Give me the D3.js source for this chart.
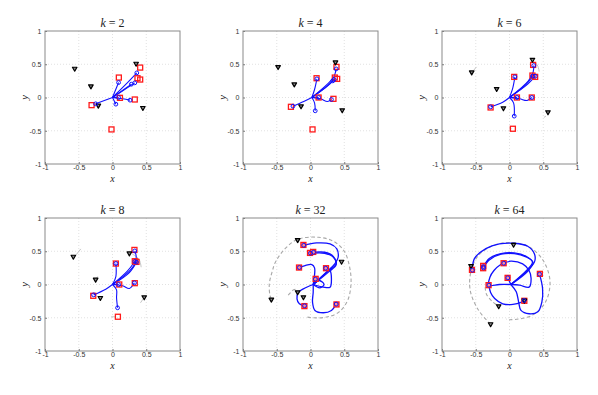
<!DOCTYPE html>
<html><head><meta charset="utf-8">
<script src="https://cdnjs.cloudflare.com/ajax/libs/d3/7.8.5/d3.min.js"></script>
<style>
html,body{margin:0;padding:0;background:#fff;}
svg{display:block;}
</style></head>
<body>
<svg id="chart" width="598" height="395"></svg>
<script>
// ---------------- data ----------------
const panelK = [2, 4, 6, 8, 32, 64];
const tickValues = [-1, -0.5, 0, 0.5, 1];
const tickLabels = ["-1", "-0.5", "0", "0.5", "1"];
const gridValues = [-0.5, 0, 0.5];

// black triangles (obstacles)
const obstaclesK2 = [[-0.56,0.435],[-0.32,0.17],[-0.21,-0.12],[0.35,0.51],[0.45,-0.155]];
const obstaclesK4 = [[-0.48,0.46],[-0.24,0.20],[-0.14,-0.13],[0.37,0.53],[0.47,-0.19]];
const obstaclesK6 = [[-0.56,0.38],[-0.19,0.13],[-0.09,-0.16],[0.34,0.57],[0.57,-0.22]];
const obstaclesK8 = [[-0.58,0.42],[-0.25,0.075],[-0.18,-0.2],[0.25,0.47],[0.47,-0.19]];
const obstaclesK32 = [[-0.19,0.67],[0.46,0.345],[-0.19,-0.115],[-0.105,-0.19],[-0.58,-0.225]];
const obstaclesK64 = [[-0.57,0.28],[0.06,0.60],[-0.16,-0.325],[-0.28,-0.595],[0.22,-0.24]];

// red squares (targets)
const targetsK2 = [[0.094,0.30],[0.41,0.45],[0.37,0.29],[0.41,0.27],[0.11,-0.005],[0.33,-0.03],[-0.31,-0.115],[-0.015,-0.48]];
const targetsK4 = [[0.09,0.29],[0.385,0.46],[0.36,0.30],[0.395,0.28],[0.12,0.0],[0.34,-0.02],[-0.29,-0.14],[0.03,-0.48]];
const targetsK6 = [[0.07,0.31],[0.35,0.49],[0.34,0.33],[0.38,0.31],[0.11,0.0],[0.33,0.0],[-0.28,-0.15],[0.05,-0.47]];
const targetsK8 = [[0.05,0.315],[0.325,0.52],[0.33,0.35],[0.355,0.34],[0.10,0.0],[0.33,0.02],[-0.285,-0.17],[0.08,-0.485]];
const targetsK32 = [[-0.105,0.595],[-0.007,0.475],[0.04,0.49],[-0.17,0.255],[0.23,0.245],[0.076,0.085],[-0.09,-0.325],[0.385,-0.3]];
const targetsK64 = [[-0.556,0.22],[-0.39,0.28],[-0.39,0.245],[-0.087,0.32],[-0.028,0.10],[-0.31,-0.01],[0.45,0.16],[0.22,-0.245]];

// blue circles (agents)
const agentsK2 = [[0.09,0.225],[0.36,0.37],[0.33,0.22],[0.28,0.2],[0.09,0.0],[0.26,-0.04],[-0.25,-0.095],[0.05,-0.1]];
const agentsK4 = [[0.095,0.28],[0.38,0.43],[0.35,0.27],[0.33,0.25],[0.12,0.0],[0.31,-0.03],[-0.26,-0.13],[0.07,-0.2]];
const agentsK6 = [[0.08,0.31],[0.36,0.48],[0.34,0.32],[0.38,0.32],[0.11,0.0],[0.33,0.0],[-0.28,-0.14],[0.07,-0.28]];
const agentsK8 = [[0.05,0.315],[0.33,0.505],[0.33,0.345],[0.355,0.335],[0.09,0.0],[0.325,0.025],[-0.28,-0.155],[0.075,-0.35]];
const agentsK32 = [[-0.1,0.59],[0.0,0.47],[0.045,0.485],[-0.165,0.255],[0.225,0.245],[0.072,0.08],[-0.088,-0.32],[0.38,-0.295]];
const agentsK64 = [[-0.55,0.215],[-0.385,0.27],[-0.385,0.25],[-0.085,0.32],[-0.025,0.10],[-0.305,-0.01],[0.445,0.155],[0.215,-0.24]];

// blue trajectories
const pathsK2 = [
  [[0,0],[0.09,0.225]],
  [[0,0],[0.2,0.2],[0.36,0.37]],
  [[0,0],[0.33,0.22]],
  [[0,0],[0.28,0.2]],
  [[0,0],[0.09,0.0]],
  [[0,0],[0.15,-0.02],[0.26,-0.04]],
  [[0,0],[-0.25,-0.095]],
  [[0,0],[0.05,-0.1]]
];
const pathsK4 = [
  [[0.02,0],[0.06,0.12],[0.095,0.28]],
  [[0.02,0],[0.25,0.2],[0.35,0.32],[0.38,0.43]],
  [[0.02,0],[0.25,0.17],[0.35,0.27]],
  [[0.02,0],[0.22,0.15],[0.33,0.25]],
  [[0.02,0],[0.12,0.0]],
  [[0.02,0],[0.15,-0.02],[0.25,-0.06],[0.31,-0.03]],
  [[0.02,0],[-0.1,-0.06],[-0.26,-0.13]],
  [[0.02,0],[0.06,-0.08],[0.07,-0.2]]
];
const pathsK6 = [
  [[0,0],[0.05,0.15],[0.08,0.31]],
  [[0,0],[0.28,0.25],[0.35,0.38],[0.36,0.48]],
  [[0,0],[0.25,0.2],[0.34,0.32]],
  [[0,0],[0.27,0.2],[0.38,0.32]],
  [[0,0],[0.11,0.0]],
  [[0,0],[0.15,-0.02],[0.26,-0.045],[0.33,0.0]],
  [[0,0],[-0.1,-0.07],[-0.28,-0.14]],
  [[0,0],[0.06,-0.08],[0.07,-0.28]]
];
const pathsK8 = [
  [[0,0],[0.05,0.12],[0.05,0.315]],
  [[0,0],[0.25,0.2],[0.34,0.33],[0.35,0.43],[0.33,0.505]],
  [[0,0],[0.22,0.2],[0.33,0.345]],
  [[0,0],[0.25,0.18],[0.355,0.335]],
  [[0,0],[0.09,0.0]],
  [[0,0],[0.15,-0.02],[0.25,-0.06],[0.325,0.025]],
  [[0,0],[-0.1,-0.07],[-0.28,-0.155]],
  [[0,0],[0.06,-0.08],[0.06,-0.2],[0.075,-0.35]]
];
const pathsK32 = [
  [[0.04,0],[0.25,0.2],[0.36,0.31],[0.41,0.41],[0.39,0.535],[0.29,0.61],[0.09,0.625],[-0.1,0.59]],
  [[0.04,0],[0.26,0.2],[0.38,0.31],[0.34,0.41],[0.21,0.47],[0.0,0.47]],
  [[0.04,0],[0.27,0.19],[0.38,0.3],[0.34,0.42],[0.21,0.485],[0.045,0.485]],
  [[0.04,0],[0.055,0.1],[0.06,0.25],[0.02,0.3],[-0.08,0.285],[-0.165,0.255]],
  [[0.04,0],[0.19,-0.04],[0.29,-0.04],[0.31,0.085],[0.29,0.21],[0.225,0.245]],
  [[0.04,0],[0.072,0.08]],
  [[0.04,0],[-0.105,-0.065],[-0.18,-0.115],[-0.2,-0.215],[-0.165,-0.29],[-0.088,-0.32]],
  [[0.04,0],[0.04,-0.115],[0.03,-0.265],[0.066,-0.39],[0.19,-0.425],[0.31,-0.39],[0.38,-0.295]],
  [[0.04,0],[0.13,0.06],[0.2,0.0],[0.14,-0.05],[0.04,0]]
];
const pathsK64 = [
  [[0.02,0],[0.25,0.2],[0.37,0.34],[0.37,0.46],[0.27,0.575],[0.07,0.62],[-0.15,0.61],[-0.35,0.54],[-0.52,0.39],[-0.55,0.215]],
  [[0.02,0],[0.26,0.22],[0.34,0.34],[0.245,0.425],[0.07,0.475],[-0.125,0.465],[-0.3,0.39],[-0.385,0.27]],
  [[0.02,0],[0.27,0.2],[0.35,0.33],[0.245,0.415],[0.07,0.465],[-0.125,0.455],[-0.3,0.37],[-0.385,0.25]],
  [[0.02,0],[0.15,-0.01],[0.29,-0.04],[0.32,0.09],[0.29,0.21],[0.195,0.31],[0.02,0.35],[-0.085,0.32]],
  [[0.02,0],[-0.025,0.10]],
  [[0.02,0],[-0.15,0.0],[-0.305,-0.01],[-0.29,0.11],[-0.23,0.21],[-0.13,0.3],[-0.085,0.32]],
  [[0.02,0],[0.1,-0.11],[0.135,-0.26],[0.17,-0.39],[0.29,-0.44],[0.42,-0.41],[0.48,-0.26],[0.49,-0.06],[0.445,0.155]],
  [[-0.305,-0.01],[-0.28,-0.12],[-0.22,-0.21],[-0.1,-0.29],[0.05,-0.3],[0.17,-0.27],[0.215,-0.24]]
];

// grey obstacle trails
const trailsK6 = [[[-0.53,0.41],[-0.49,0.46]],[[0.38,0.53],[0.42,0.47],[0.44,0.39]],[[0.54,-0.28],[0.51,-0.3]],[[0.0,-0.47],[0.03,-0.47]]];
const trailsK8 = [[[-0.54,0.445],[-0.47,0.535]],[[0.29,0.46],[0.39,0.385],[0.425,0.26]],[[0.455,-0.215],[0.415,-0.275]],[[-0.02,-0.485],[0.04,-0.485]],[[-0.24,0.09],[-0.22,0.12]]];
const trailsK32 = [
  [[-0.58,-0.215],[-0.6,-0.165],[-0.61,0.01],[-0.57,0.185],[-0.52,0.335],[-0.38,0.535],[-0.19,0.68],[0.115,0.71],[0.34,0.65],[0.5,0.5],[0.58,0.26],[0.6,0.01],[0.55,-0.24],[0.42,-0.415],[0.24,-0.49],[0.02,-0.5],[-0.05,-0.49]],
  [[-0.33,-0.16],[-0.3,-0.125],[-0.25,-0.08],[-0.19,-0.07]]
];
const trailsK64 = [
  [[-0.28,-0.595],[-0.45,-0.4],[-0.58,-0.1],[-0.57,0.2],[-0.45,0.45],[-0.2,0.6],[0.06,0.63],[0.3,0.56],[0.5,0.36],[0.6,0.05],[0.53,-0.27],[0.32,-0.47],[0.0,-0.53],[-0.05,-0.52]],
  [[-0.36,-0.04],[-0.34,-0.15],[-0.25,-0.26],[-0.16,-0.325]]
];

const panels = [
  {k:panelK[0], obstacles:obstaclesK2, targets:targetsK2, agents:agentsK2, paths:pathsK2, trails:[], dashed:false},
  {k:panelK[1], obstacles:obstaclesK4, targets:targetsK4, agents:agentsK4, paths:pathsK4, trails:[], dashed:false},
  {k:panelK[2], obstacles:obstaclesK6, targets:targetsK6, agents:agentsK6, paths:pathsK6, trails:trailsK6, dashed:false},
  {k:panelK[3], obstacles:obstaclesK8, targets:targetsK8, agents:agentsK8, paths:pathsK8, trails:trailsK8, dashed:false},
  {k:panelK[4], obstacles:obstaclesK32, targets:targetsK32, agents:agentsK32, paths:pathsK32, trails:trailsK32, dashed:true},
  {k:panelK[5], obstacles:obstaclesK64, targets:targetsK64, agents:agentsK64, paths:pathsK64, trails:trailsK64, dashed:true}
];

// ---------------- layout ----------------
const colLeft = [45, 243, 442];
const rowTop = [31, 218];
const W = 135, H = 133;
const svg = d3.select("#chart");
const serif = "'Liberation Serif','DejaVu Serif',serif";
const sans = "'Liberation Sans',Arial,sans-serif";

panels.forEach((p, i) => {
  const left = colLeft[i % 3], top = rowTop[Math.floor(i / 3)];
  const x = d3.scaleLinear().domain([-1, 1]).range([left, left + W]);
  const y = d3.scaleLinear().domain([-1, 1]).range([top + H, top]);
  const g = svg.append("g");

  // grid
  g.selectAll(".gx").data(gridValues).join("line")
    .attr("x1", d => x(d)).attr("x2", d => x(d)).attr("y1", top).attr("y2", top + H)
    .attr("stroke", "#d4d4d4").attr("stroke-width", 0.7).attr("stroke-dasharray", "1,2");
  g.selectAll(".gy").data(gridValues).join("line")
    .attr("y1", d => y(d)).attr("y2", d => y(d)).attr("x1", left).attr("x2", left + W)
    .attr("stroke", "#d4d4d4").attr("stroke-width", 0.7).attr("stroke-dasharray", "1,2");

  // axes
  const fmt = d => tickLabels[tickValues.indexOf(d)];
  const ax = g.append("g").attr("transform", `translate(0,${top + H})`)
    .call(d3.axisBottom(x).tickValues(tickValues).tickFormat(fmt).tickSizeInner(-2).tickSizeOuter(0).tickPadding(1.5));
  const ay = g.append("g").attr("transform", `translate(${left},0)`)
    .call(d3.axisLeft(y).tickValues(tickValues).tickFormat(fmt).tickSizeInner(-2).tickSizeOuter(0).tickPadding(3.5));
  [ax, ay].forEach(a => {
    a.select(".domain").remove();
    a.selectAll("line").attr("stroke", "#777");
    a.selectAll("text").attr("font-family", sans).attr("font-size", 7).attr("fill", "#333");
  });

  // frame
  g.append("rect").attr("x", left).attr("y", top).attr("width", W).attr("height", H)
    .attr("fill", "none").attr("stroke", "#8a8a8a").attr("stroke-width", 1);

  const clip = g.append("g");
  const line = d3.line().x(d => x(d[0])).y(d => y(d[1])).curve(d3.curveCatmullRom.alpha(0.5));

  // grey trails
  clip.selectAll(".trail").data(p.trails).join("path")
    .attr("d", line).attr("fill", "none")
    .attr("stroke", p.dashed ? "#a8a8a8" : "#c4c4c4")
    .attr("stroke-width", p.dashed ? 1.1 : 1)
    .attr("stroke-dasharray", p.dashed ? "3.5,2.5" : null);

  // blue paths
  clip.selectAll(".path").data(p.paths).join("path")
    .attr("d", line).attr("fill", "none").attr("stroke", "#1010ff")
    .attr("stroke-width", p.dashed ? 1.3 : 1.1).attr("stroke-linejoin", "round");

  // targets (red squares)
  const s = 5;
  clip.selectAll(".tg").data(p.targets).join("rect")
    .attr("x", d => x(d[0]) - s / 2).attr("y", d => y(d[1]) - s / 2)
    .attr("width", s).attr("height", s)
    .attr("fill", p.dashed ? "#ff9090" : "none").attr("stroke", "#ff1a1a").attr("stroke-width", 1.3);

  // obstacles (black down triangles)
  const tri = d3.symbol().type(d3.symbolTriangle).size(9);
  clip.selectAll(".ob").data(p.obstacles).join("path")
    .attr("d", tri)
    .attr("transform", d => `translate(${x(d[0])},${y(d[1])}) rotate(180)`)
    .attr("fill", "#888").attr("stroke", "#000").attr("stroke-width", 1.2).attr("stroke-linejoin", "round");

  // agents (blue circles)
  clip.selectAll(".ag").data(p.agents).join("circle")
    .attr("cx", d => x(d[0])).attr("cy", d => y(d[1])).attr("r", 1.9)
    .attr("fill", "none").attr("stroke", "#1010ff").attr("stroke-width", 1);

  // title
  const t = g.append("text").attr("x", left + W / 2).attr("y", top - 4)
    .attr("text-anchor", "middle").attr("font-family", serif).attr("font-size", 12).attr("fill", "#222");
  t.append("tspan").attr("font-style", "italic").text("k");
  t.append("tspan").text(" = " + p.k);

  // axis labels
  g.append("text").attr("x", left + W / 2).attr("y", top + H + 18)
    .attr("text-anchor", "middle").attr("font-family", serif).attr("font-style", "italic")
    .attr("font-size", 10).attr("fill", "#222").text("x");
  g.append("text").attr("transform", `translate(${left - 17},${top + H / 2}) rotate(-90)`)
    .attr("text-anchor", "middle").attr("font-family", serif).attr("font-style", "italic")
    .attr("font-size", 10.5).attr("fill", "#222").text("y");
});
</script>
</body></html>
